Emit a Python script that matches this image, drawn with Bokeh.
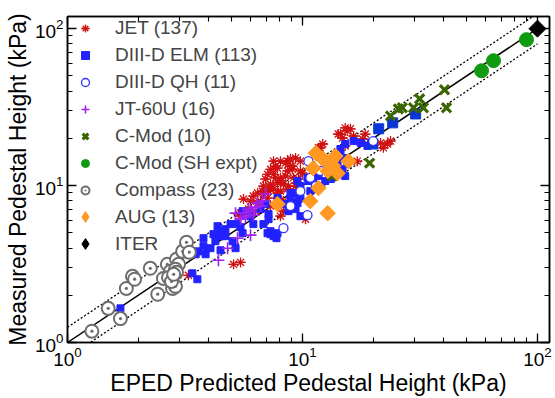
from bokeh.plotting import figure
from bokeh.models import Range1d, LogAxis, LogTicker, Legend, LegendItem
from bokeh.embed import file_html
from bokeh.resources import INLINE
import math

# ---------------- data (EPED predicted, measured) in kPa ----------------
jet_x = [8.47, 9.06, 9.34, 7.53, 8.06, 7.83, 8.30, 7.31, 7.53, 8.06, 8.63, 6.82, 7.10, 6.76, 6.44,
         6.01, 5.61, 5.56, 5.34, 7.31, 7.83, 8.30, 8.06, 10.0, 9.52, 11.7, 12.2, 10.3, 14.5, 15.2,
         9.61, 8.89, 7.68, 8.63, 9.06, 8.72, 7.31, 6.44, 7.83, 9.16, 9.80, 11.9, 6.18, 6.82, 7.10,
         7.83, 8.63, 7.53, 9.16, 6.63, 6.96, 8.06, 7.90, 5.89, 5.45, 15.5, 14.8, 14.2, 16.0, 18.5,
         23.0, 22.1, 17.1, 16.5, 15.2, 18.0, 23.7, 21.5, 5.09, 5.45, 3.27, 2.94, 7.68, 8.47, 7.17,
         8.30, 6.76, 8.89, 9.34, 8.06, 7.31, 6.31, 9.80]
jet_y = [13.9, 13.3, 15.0, 11.8, 11.2, 10.4, 10.2, 10.2, 9.50, 9.22, 9.50, 8.83, 8.32, 7.73, 7.73,
         7.96, 8.20, 6.58, 6.58, 7.40, 8.32, 6.87, 6.38, 12.0, 10.4, 17.4, 18.4, 6.11, 21.3, 17.9,
         11.0, 14.8, 11.2, 12.4, 12.7, 9.93, 9.64, 8.96, 8.96, 11.2, 12.4, 17.4, 8.57, 9.93, 11.8,
         12.9, 14.3, 14.3, 9.22, 7.96, 11.0, 10.7, 8.96, 7.08, 6.67, 22.3, 20.1, 21.3, 23.0, 21.3,
         18.4, 17.4, 14.3, 20.7, 23.3, 19.8, 19.2, 18.7, 3.15, 3.24, 2.68, 2.68, 13.3, 11.5, 9.22,
         7.96, 9.22, 13.3, 9.93, 14.3, 12.7, 6.87, 14.3]

elm_x = [1.68, 3.40, 3.57, 3.51, 3.61, 3.79, 3.79, 3.87, 4.06, 4.35, 4.39, 4.48, 4.70, 4.94, 5.29,
         5.45, 5.56, 6.18, 4.48, 5.19, 6.63, 7.17, 7.17, 7.10, 7.31, 7.53, 7.75, 7.83, 9.52, 6.01,
         5.56, 6.96, 7.83, 8.89, 9.16, 9.61, 9.80, 10.6, 11.1, 11.7, 12.8, 14.1, 14.5, 15.2, 16.5,
         17.7, 18.9, 14.5, 14.9, 14.1, 15.5, 14.8, 13.5, 14.5, 15.2, 4.70, 4.18, 8.72, 9.34, 9.80,
         11.9, 12.5, 13.2, 10.8, 4.26, 5.04, 9.52, 10.5, 8.89, 9.80, 8.30, 11.7, 6.82, 7.31]
elm_y = [1.65, 2.76, 2.53, 3.65, 3.81, 4.62, 4.11, 3.65, 3.99, 5.51, 5.12, 4.76, 4.76, 5.68, 5.68,
         5.43, 4.97, 5.68, 3.87, 3.99, 7.08, 6.58, 6.11, 4.97, 4.90, 4.76, 4.62, 4.97, 7.73, 6.38,
         6.87, 7.62, 8.32, 8.96, 8.96, 8.20, 9.93, 10.7, 11.2, 12.4, 12.9, 14.8, 17.1, 18.4, 19.2,
         18.7, 17.9, 16.1, 15.0, 13.9, 13.7, 12.7, 12.4, 11.8, 11.5, 5.27, 4.90, 6.87, 7.08, 6.38,
         9.93, 10.7, 11.0, 9.22, 4.42, 4.42, 10.7, 11.2, 8.20, 8.32, 7.62, 11.5, 5.68, 5.12]
elm_big_x = [19.9, 21.1, 24.2, 30.3]
elm_big_y = [18.4, 23.0, 25.1, 28.6]

qh_x = [8.30, 10.5, 10.6, 10.8, 11.9, 12.9, 13.2, 20.0, 9.80, 11.4, 8.89]
qh_y = [5.35, 6.48, 14.3, 11.2, 12.4, 13.3, 11.8, 19.2, 9.22, 9.93, 7.40]

jt_x = [4.39, 4.80, 5.29, 6.01, 5.72, 6.01, 6.31, 6.63, 6.96, 5.19, 5.61, 5.89, 6.44, 6.76, 5.45, 6.18]
jt_y = [3.34, 3.99, 4.62, 4.83, 6.29, 6.87, 7.29, 7.40, 8.83, 6.67, 6.67, 7.08, 7.73, 7.96, 6.11, 6.48]

cmod_x = [23.7, 25.6, 26.6, 29.7, 31.5, 32.7, 40.2, 41.0, 19.3, 13.4]
cmod_y = [27.8, 30.8, 31.3, 31.3, 35.7, 31.3, 40.8, 31.3, 13.9, 11.5]

sh_x = [57.8, 65.0, 89.8]
sh_y = [53.9, 62.5, 85.1]

compass_x = [1.27, 1.49, 1.68, 1.78, 1.89, 1.93, 2.25, 2.42, 2.56, 2.66, 2.74, 2.80, 2.88, 2.91,
             2.97, 3.09, 3.21, 3.30, 2.69, 2.77, 2.88, 2.91, 2.83]
compass_y = [1.18, 1.65, 1.42, 2.21, 2.64, 2.53, 2.97, 2.03, 2.56, 3.15, 2.84, 2.21, 2.28, 3.39,
             3.15, 3.81, 4.35, 3.76, 2.60, 2.45, 2.93, 2.80, 2.72]

aug_x = [7.83, 10.8, 12.8, 11.7, 11.1, 11.4, 12.2, 13.2, 13.5, 12.8, 14.1, 15.7, 13.8]
aug_y = [7.62, 7.96, 6.67, 9.64, 12.9, 16.1, 14.8, 14.3, 13.3, 12.4, 12.0, 14.3, 15.4]

iter_x = [100.0]
iter_y = [100.0]

line_x = [1.0, 100.0]
band_hi = 1.25
band_lo = 0.8

labels = ["JET (137)", "DIII-D ELM (113)", "DIII-D QH (11)", "JT-60U (16)", "C-Mod (10)",
          "C-Mod (SH expt)", "Compass (23)", "AUG (13)", "ITER"]
x_title = "EPED Predicted Pedestal Height (kPa)"
y_title = "Measured Pedestal Height (kPa)"

FONT = "Liberation Sans"
RED, BLUE, BLUE2, QHC, PURPLE = "#d01010", "#2222ff", "#0a36d6", "#3030ff", "#a020f0"
DKGREEN, GREEN, GRAY, ORANGE = "#3a6600", "#0f9a0f", "#6e6e6e", "#ff9922"

p = figure(width=555, height=398, x_axis_type="log", y_axis_type="log",
           x_range=Range1d(1, 112.5), y_range=Range1d(1, 119.5),
           output_backend="svg", toolbar_location=None,
           min_border_left=67, min_border_right=6, min_border_top=16, min_border_bottom=56)
p.grid.visible = False
p.outline_line_color = "black"
p.outline_line_width = 1.5
p.background_fill_color = "white"
p.border_fill_color = "white"

# reference lines
p.line(line_x, line_x, line_color="black", line_width=1.5)
p.line(line_x, [v * band_hi for v in line_x], line_color="black", line_width=1.3, line_dash="2 2")
p.line(line_x, [v * band_lo for v in line_x], line_color="black", line_width=1.3, line_dash="2 2")

r_jet1 = p.scatter(jet_x, jet_y, marker="asterisk", size=10, line_color=RED, line_width=1.3)
r_jet2 = p.scatter(jet_x, jet_y, marker="dash", size=10, line_color=RED, line_width=1.3)
r_elm = p.scatter(elm_x, elm_y, marker="square", size=7, fill_color=BLUE, line_color=BLUE)
p.scatter(elm_big_x, elm_big_y, marker="square", size=10, fill_color=BLUE2, line_color=BLUE2)
r_qh = p.scatter(qh_x, qh_y, marker="circle", size=9, fill_color="white", line_color=QHC, line_width=1.3)
r_jt = p.scatter(jt_x, jt_y, marker="cross", size=12, line_color=PURPLE, line_width=1.6)
r_cmod = p.scatter(cmod_x, cmod_y, marker="x", size=13, line_color=DKGREEN, line_width=3.2)
r_sh = p.scatter(sh_x, sh_y, marker="circle", size=14, fill_color=GREEN, line_color=GREEN)
r_cmp = p.scatter(compass_x, compass_y, marker="circle_dot", size=13, fill_color="white",
                  line_color=GRAY, line_width=2)
# small diamonds that serve as legend symbols; they sit fully under the larger rotated squares
r_aug_leg = p.scatter(aug_x, aug_y, marker="diamond", size=7, fill_color=ORANGE, line_color=ORANGE)
r_iter_leg = p.scatter(iter_x, iter_y, marker="diamond", size=7, fill_color="black", line_color="black")
p.scatter(aug_x, aug_y, marker="square", angle=math.pi / 4, size=11,
          fill_color=ORANGE, line_color=ORANGE)
p.scatter(iter_x, iter_y, marker="square", angle=math.pi / 4, size=12,
          fill_color="black", line_color="black")

renderer_groups = [[r_jet1, r_jet2], [r_elm], [r_qh], [r_jt], [r_cmod], [r_sh], [r_cmp],
                   [r_aug_leg], [r_iter_leg]]
items = [LegendItem(label=l, renderers=g) for l, g in zip(labels, renderer_groups)]
common = dict(margin=0, padding=1, label_height=20, glyph_width=34, label_standoff=13,
              label_text_font=FONT, label_text_font_size="19px",
              background_fill_alpha=0, border_line_alpha=0)
legend1 = Legend(items=items[:7], location="top_left", spacing=5, glyph_height=20, **common)
legend2 = Legend(items=items[7:], location=(0, 84), spacing=0, glyph_height=27, **common)
p.add_layout(legend1)
p.add_layout(legend2)

p.xaxis.axis_label = x_title
p.yaxis.axis_label = y_title

def style_axis(ax, labels_on=True):
    ax.ticker = LogTicker(num_minor_ticks=10)
    ax.major_tick_in = 9
    ax.major_tick_out = 0
    ax.minor_tick_in = 5
    ax.minor_tick_out = 0
    ax.axis_line_width = 1.5
    ax.major_tick_line_width = 1.3
    ax.minor_tick_line_width = 1.1
    ax.major_label_text_font = FONT
    ax.major_label_text_color = "black"
    ax.axis_label_text_font = FONT
    ax.axis_label_text_font_style = "normal"
    ax.axis_label_text_color = "black"
    if labels_on:
        ax.major_label_text_font_size = "19px"
        ax.axis_label_text_font_size = "23px"
        ax.major_label_standoff = 4
        ax.axis_label_standoff = 1
    else:
        ax.major_label_overrides = {1: "", 10: "", 100: ""}
        ax.major_label_text_font_size = "1px"
        ax.major_label_standoff = 0

for ax in p.xaxis + p.yaxis:
    style_axis(ax)

top = LogAxis()
right = LogAxis()
style_axis(top, False)
style_axis(right, False)
p.add_layout(top, "above")
p.add_layout(right, "right")

open("out.html", "w").write(file_html(p, INLINE))
